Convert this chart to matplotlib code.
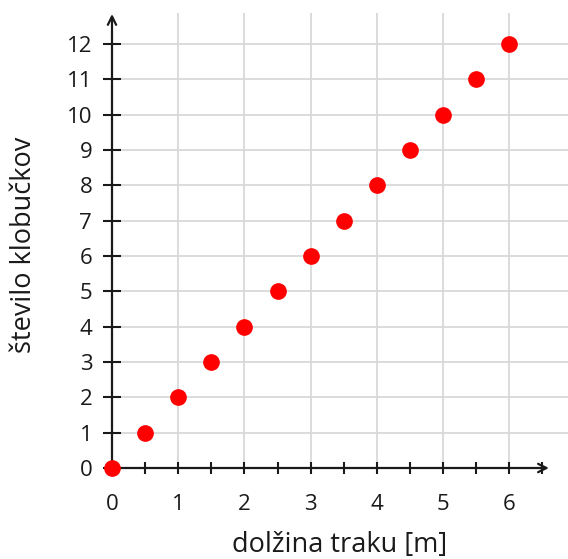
import numpy as np
import matplotlib.pyplot as plt

plt.rcParams['font.family'] = ['Open Sans', 'DejaVu Sans']

# dolžina traku [m] in število klobučkov
dolzina = [0, 0.5, 1, 1.5, 2, 2.5, 3, 3.5, 4, 4.5, 5, 5.5, 6]
klobucki = [0, 1, 2, 3, 4, 5, 6, 7, 8, 9, 10, 11, 12]
x_labels = ['0', '1', '2', '3', '4', '5', '6']
y_labels = [str(i) for i in range(13)]

W, H = 568, 559
fig = plt.figure(figsize=(W / 100, H / 100), dpi=100)
# axes: x=0 at px 112, right edge at px 568; y=0 at px 468, top at px 13
x0, x1 = 112, 568
y0, y1 = 468, 13
ax = fig.add_axes([x0 / W, 1 - y0 / H, (x1 - x0) / W, (y0 - y1) / H])
xmax = (x1 - x0) / 66.2
ymax = (y0 - y1) / 35.33
ax.set_xlim(0, xmax)
ax.set_ylim(0, ymax)

for s in ax.spines.values():
    s.set_visible(False)

ax.set_xticks(range(len(x_labels)))
ax.set_xticklabels(x_labels)
ax.set_xticks(np.arange(0.5, 7, 1.0), minor=True)
ax.set_yticks(range(len(y_labels)))
ax.set_yticklabels(y_labels)

ax.tick_params(axis='x', which='both', direction='inout', length=9, width=1.5,
               color='#1a1a1a', labelsize=16, pad=14, labelcolor='#1a1a1a')
ax.tick_params(axis='y', which='major', direction='inout', length=12.5, width=1.5,
               color='#1a1a1a', labelsize=16, pad=8, labelcolor='#1a1a1a')

# grid
for gx in range(1, 7):
    ax.axvline(gx, color='#d9d9d9', lw=1.3, zorder=0)
for gy in range(1, 13):
    ax.axhline(gy, color='#d9d9d9', lw=1.3, zorder=0)

# axes with arrows
ax.annotate('', xy=(6.6, 0), xytext=(0, 0), annotation_clip=False,
            arrowprops=dict(arrowstyle='->,head_length=0.6,head_width=0.3',
                            color='#1a1a1a', lw=1.6, shrinkA=0, shrinkB=0))
ax.annotate('', xy=(0, 12.85), xytext=(0, 0), annotation_clip=False,
            arrowprops=dict(arrowstyle='->,head_length=0.6,head_width=0.3',
                            color='#1a1a1a', lw=1.6, shrinkA=0, shrinkB=0))

ax.plot(dolzina, klobucki, 'o', color='#ff0000', markersize=11, clip_on=False, zorder=5)

fig.text(340 / W, 1 - 545 / H, 'dolžina traku [m]', fontsize=19.5,
         ha='center', va='center', color='#1a1a1a')
fig.text(24 / W, 1 - 245 / H, 'število klobučkov', fontsize=19.5, rotation=90,
         ha='center', va='center', color='#1a1a1a')

fig.savefig('out.png', dpi=100)
